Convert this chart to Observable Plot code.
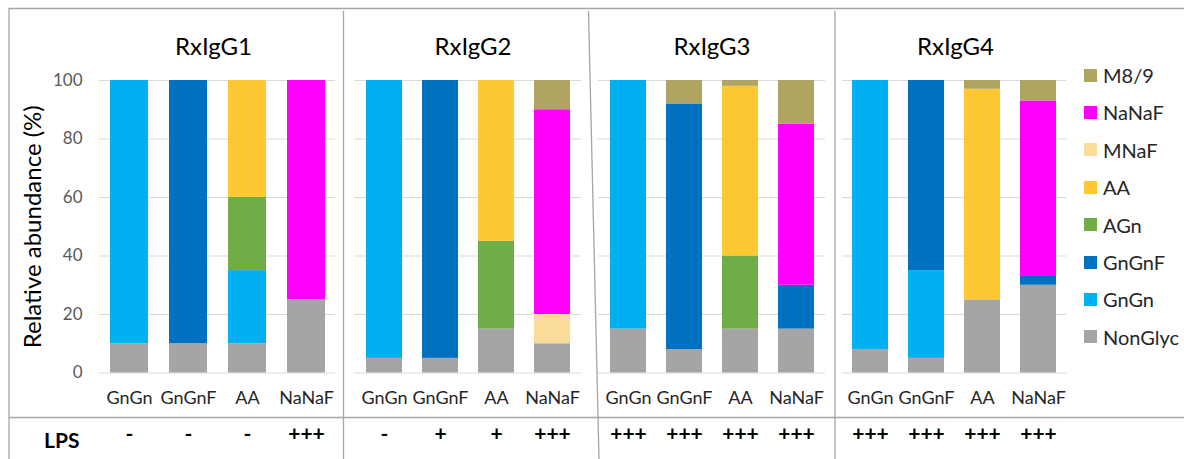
<!DOCTYPE html>
<html><head><meta charset="utf-8">
<script src="https://cdn.jsdelivr.net/npm/d3@7"></script>
<script src="https://cdn.jsdelivr.net/npm/@observablehq/plot@0.6"></script>
<style>
body{margin:0;background:#fff;font-family:Lato,"Open Sans",sans-serif;}
#wrap{position:relative;width:1184px;height:459px;overflow:hidden;background:#fff;}
.panel{position:absolute;top:0;}
.panel svg{background:transparent !important;overflow:visible;}
.leg{position:absolute;left:1084px;height:24px;display:flex;align-items:center;font-size:20px;color:#262626;white-space:nowrap;}
.leg span.sw{display:inline-block;width:13px;height:13px;margin-right:6px;}
#lps{position:absolute;left:44px;top:427px;font-size:21px;font-weight:bold;color:#000;}
#frame{position:absolute;left:0;top:0;pointer-events:none;}
</style></head><body><div id="wrap"></div>
<script>
// ---- data ----
const panels = ["RxIgG1", "RxIgG2", "RxIgG3", "RxIgG4"];
const samples = ["GnGn", "GnGnF", "AA", "NaNaF"];
const glycans = ["NonGlyc", "GnGn", "GnGnF", "AGn", "AA", "MNaF", "NaNaF", "M8/9"]; // stack order bottom -> top
const glycanColors = ["#a5a5a5", "#00b0f0", "#0070c0", "#70ad47", "#fdc832", "#f9dc9a", "#ff00ff", "#afa462"];
// values per glycan: 16 entries = 4 panels x 4 samples
const nonGlyc = [10, 10, 10, 25,   5, 5, 15, 10,   15, 8, 15, 15,   8, 5, 25, 30];
const gnGn    = [90, 0, 25, 0,     95, 0, 0, 0,    85, 0, 0, 0,     92, 30, 0, 0];
const gnGnF   = [0, 90, 0, 0,      0, 95, 0, 0,    0, 84, 0, 15,    0, 65, 0, 3];
const aGn     = [0, 0, 25, 0,      0, 0, 30, 0,    0, 0, 25, 0,     0, 0, 0, 0];
const aa      = [0, 0, 40, 0,      0, 0, 55, 0,    0, 0, 58, 0,     0, 0, 72, 0];
const mNaF    = [0, 0, 0, 0,       0, 0, 0, 10,    0, 0, 0, 0,      0, 0, 0, 0];
const naNaF   = [0, 0, 0, 75,      0, 0, 0, 70,    0, 0, 0, 55,     0, 0, 0, 60];
const m89     = [0, 0, 0, 0,       0, 0, 0, 10,    0, 8, 2, 15,     0, 0, 3, 7];
const series = [nonGlyc, gnGn, gnGnF, aGn, aa, mNaF, naNaF, m89];
const lps = ["-", "-", "-", "+++",   "-", "+", "+", "+++",   "+++", "+++", "+++", "+++",   "+++", "+++", "+++", "+++"];
const yTicks = [0, 20, 40, 60, 80, 100];
const yLabel = "Relative abundance (%)";
const lpsLabel = "LPS";

// ---- layout ----
const layout = [
  {left: 0,   width: 343, ml: 99, mr: 8,  tdx: -4},
  {left: 344, width: 246, ml: 10, mr: 9,  tdx: 5},
  {left: 591, width: 244, ml: 7,  mr: 10, tdx: 0},
  {left: 836, width: 240, ml: 6,  mr: 10, tdx: 1}
];
const wrap = document.getElementById("wrap");

panels.forEach((p, i) => {
  const lay = layout[i];
  const rows = [];
  samples.forEach((s, j) => glycans.forEach((g, k) => {
    const v = series[k][i * 4 + j];
    if (v > 0) rows.push({sample: s, glycan: g, value: v});
  }));
  const lpsRows = samples.map((s, j) => ({sample: s, lps: lps[i * 4 + j]}));
  const marks = [
    Plot.gridY(yTicks, {stroke: "#d9d9d9", strokeOpacity: 1, strokeWidth: 1.2}),
    Plot.barY(rows, {x: "sample", y: "value", fill: "glycan"}),
    Plot.axisX({tickSize: 0, tickPadding: 18, fontSize: 18, fill: "#262626", label: null}),
    Plot.text([p], {frameAnchor: "top", dy: -43, dx: lay.tdx, fontSize: 24, fill: "#000"}),
    Plot.text(lpsRows, {x: "sample", text: "lps", frameAnchor: "bottom", dy: 68, fontWeight: "bold", fontSize: 21, fill: "#000"})
  ];
  if (i === 0) {
    marks.push(Plot.axisY(yTicks, {tickSize: 0, tickPadding: 17, fontSize: 17, fill: "#595959",
      label: yLabel, labelAnchor: "center", labelArrow: "none", labelOffset: 76}));
  }
  const chart = Plot.plot({
    width: lay.width, height: 459,
    marginLeft: lay.ml, marginRight: lay.mr, marginTop: 80, marginBottom: 86.5,
    style: {fontFamily: "Lato, 'Open Sans', sans-serif", background: "transparent", overflow: "visible"},
    x: {domain: samples, paddingInner: 0.36, paddingOuter: 0.18, axis: null},
    y: {domain: [0, 100], axis: null},
    color: {domain: glycans, range: glycanColors},
    marks
  });
  const div = document.createElement("div");
  div.className = "panel";
  div.style.left = lay.left + "px";
  div.appendChild(chart);
  wrap.appendChild(div);
});

// y label font size
wrap.querySelectorAll("svg text").forEach(t => {
  if (t.textContent === yLabel) { t.style.fontSize = "24px"; t.style.fill = "#000"; }
});

// legend (top to bottom reversed)
glycans.slice().reverse().forEach((g, r) => {
  const k = glycans.indexOf(g);
  const d = document.createElement("div");
  d.className = "leg";
  d.style.top = (75 + r * 37.4 - 12) + "px";
  d.innerHTML = `<span class="sw" style="background:${glycanColors[k]}"></span>${g}`;
  wrap.appendChild(d);
});

const lpsDiv = document.createElement("div");
lpsDiv.id = "lps";
lpsDiv.textContent = lpsLabel;
wrap.appendChild(lpsDiv);

// frame lines
const svg = d3.select(wrap).append("svg").attr("id", "frame").attr("width", 1184).attr("height", 459);
const lineStyle = s => s.attr("stroke", "#a6a6a6").attr("stroke-width", 1.3);
[[9, 8.5, 1184, 8.5], [9, 8, 9, 459], [9, 417.5, 1184, 417.5], [343.5, 11, 343.5, 459],
 [588.5, 11, 599, 459], [835, 11, 835, 459]].forEach(([x1, y1, x2, y2]) =>
  svg.append("line").attr("x1", x1).attr("y1", y1).attr("x2", x2).attr("y2", y2).call(lineStyle));
</script>
</body></html>
